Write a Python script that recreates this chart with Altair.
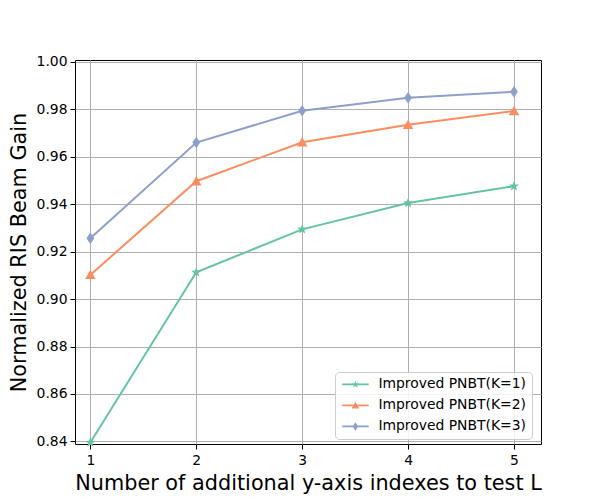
import math
import altair as alt
import pandas as pd

# ---- data ----
L_values = [1, 2, 3, 4, 5]
k1 = [0.8395, 0.9113, 0.9294, 0.9405, 0.9476]
k2 = [0.9102, 0.9497, 0.9661, 0.9735, 0.9793]
k3 = [0.9256, 0.9660, 0.9794, 0.9849, 0.9874]
series_names = ["Improved PNBT(K=1)", "Improved PNBT(K=2)", "Improved PNBT(K=3)"]
series_colors = ["#66c2a5", "#fc8d62", "#8da0cb"]
y_ticks = [0.84, 0.86, 0.88, 0.90, 0.92, 0.94, 0.96, 0.98, 1.00]
x_ticks = [1, 2, 3, 4, 5]

rows = []
for name, vals in zip(series_names, [k1, k2, k3]):
    for x, y in zip(L_values, vals):
        rows.append({"L": x, "gain": y, "series": name})
df = pd.DataFrame(rows)

# ---- marker shapes (unit paths, all wound clockwise) ----
def star_path(ro=1.0, ri=0.382):
    pts = []
    for i in range(10):
        a = -math.pi / 2 + i * math.pi / 5
        r = ro if i % 2 == 0 else ri
        pts.append((r * math.cos(a), r * math.sin(a)))
    return "M" + "L".join(f"{x:.3f},{y:.3f}" for x, y in pts) + "Z"

star = star_path(1.0, 0.42)
tri = "M0,-1L1,0.8L-1,0.8Z"
dia = "M0,-1.1L0.75,0L0,1.1L-0.75,0Z"
marker_paths = [star, tri, dia]

def with_line(p, half=2.95, t=0.19):
    return f"M{-half},{-t}H{half}V{t}H{-half}Z" + p

legend_paths = [with_line(star_path(0.85, 0.36)), with_line("M0,-0.85L0.85,0.68L-0.85,0.68Z"),
                with_line("M0,-0.95L0.63,0L0,0.95L-0.63,0Z")]

x_scale = alt.Scale(domain=[0.855, 5.255], nice=False, zero=False)
y_scale = alt.Scale(domain=[0.8389, 1.0008], nice=False, zero=False)

x_enc = alt.X("L:Q", scale=x_scale,
              axis=alt.Axis(values=x_ticks, format="d", labelPadding=4,
                            title="Number of additional y-axis indexes to test L",
                            titleFontSize=20.8, titlePadding=7, titleFontWeight="normal"))
y_enc = alt.Y("gain:Q", scale=y_scale,
              axis=alt.Axis(values=y_ticks, format=".2f",
                            title="Normalized RIS Beam Gain",
                            titleFontSize=20.8, titlePadding=7, titleFontWeight="normal"))

base = alt.Chart(df)

lines = base.mark_line(strokeWidth=2).encode(
    x=x_enc, y=y_enc,
    stroke=alt.Stroke("series:N", scale=alt.Scale(domain=series_names, range=series_colors), legend=None),
    detail="series:N",
)

points = base.mark_point(filled=True, opacity=1, size=110, strokeWidth=0).encode(
    x=x_enc, y=y_enc,
    fill=alt.Fill("series:N", scale=alt.Scale(domain=series_names, range=series_colors), legend=None),
    shape=alt.Shape("series:N", scale=alt.Scale(domain=series_names, range=marker_paths), legend=None),
)

legend = alt.Legend(
    title=None, orient="none", legendX=260, legendY=312,
    strokeColor="#cccccc", fillColor="rgba(255,255,255,0.85)", cornerRadius=4,
    padding=5.5, labelFontSize=13.9, labelFont="DejaVu Sans", labelColor="#000000",
    symbolSize=81, symbolStrokeWidth=0, symbolOffset=8, labelOffset=16,
    symbolOpacity=1, rowPadding=6,
)

legend_layer = base.mark_point(filled=True, opacity=1, clip=True, size=81).encode(
    x=x_enc,
    y=alt.Y("dummy:Q", scale=y_scale),
    color=alt.Color("series:N", scale=alt.Scale(domain=series_names, range=series_colors), legend=legend),
    shape=alt.Shape("series:N", scale=alt.Scale(domain=series_names, range=legend_paths), legend=legend),
).transform_calculate(dummy="0.5")

chart = alt.layer(lines, points, legend_layer).resolve_scale(
    shape="independent", color="independent"
).properties(
    width=466, height=384,
    autosize=alt.AutoSizeParams(type="none"),
    padding={"left": 67, "top": 52, "right": 40, "bottom": 56},
    background="white",
).configure_view(
    stroke="black", strokeWidth=1
).configure_axis(
    grid=True, gridColor="#b0b0b0", gridWidth=1,
    domain=False, tickColor="black", tickSize=5, tickWidth=1,
    labelFont="DejaVu Sans", labelFontSize=13.9, labelColor="black", labelPadding=3,
    titleFont="DejaVu Sans", titleColor="black",
)

chart.save("out.html", embed_options={"renderer": "svg", "actions": False})
